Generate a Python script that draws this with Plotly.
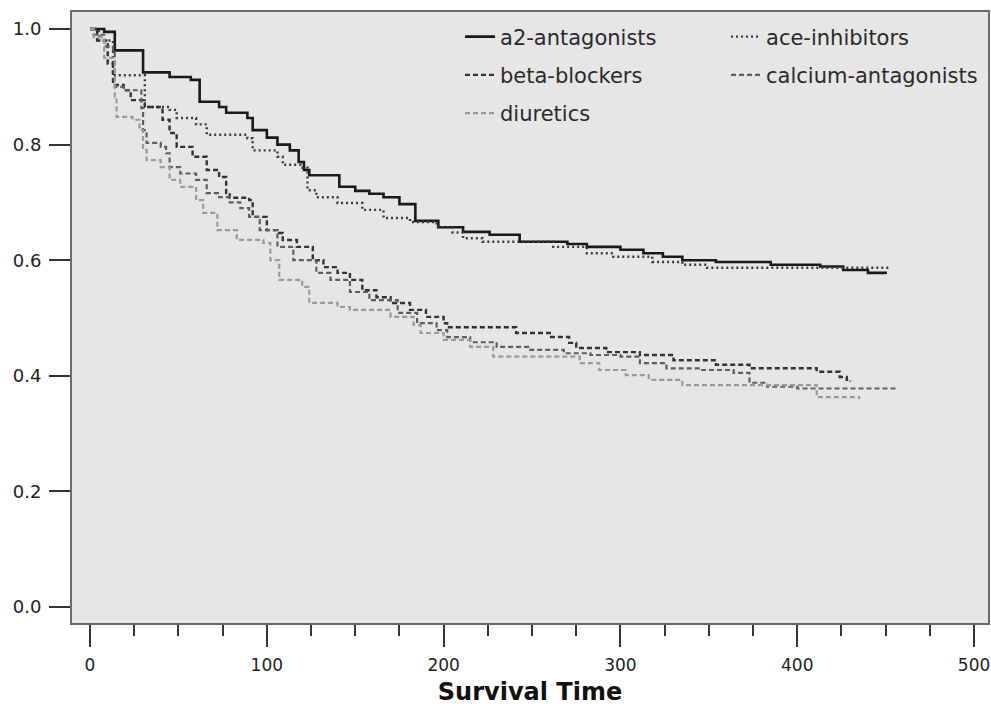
import plotly.graph_objects as go

# Survival time (days) and survival proportion for each drug class (Kaplan-Meier steps)
a2_time = [0, 8, 14, 30, 45, 57, 62, 73, 77, 89, 92, 100, 106, 113, 118, 121, 124, 141, 150, 158, 166,
           175, 184, 197, 211, 226, 243, 270, 281, 300, 313, 324, 335, 354, 385, 413, 426, 440, 450]
a2_surv = [1.0, 0.995, 0.963, 0.925, 0.917, 0.912, 0.874, 0.865, 0.855, 0.846, 0.825, 0.812, 0.80, 0.79, 0.77,
           0.756, 0.747, 0.727, 0.72, 0.715, 0.709, 0.697, 0.668, 0.657, 0.649, 0.644, 0.632, 0.628, 0.623,
           0.618, 0.612, 0.606, 0.600, 0.597, 0.592, 0.589, 0.583, 0.578, 0.576]

ace_time = [0, 5, 13, 31, 45, 49, 60, 66, 89, 92, 106, 109, 119, 123, 128, 140, 154, 166, 181, 196, 205,
            211, 222, 262, 281, 296, 318, 335, 349, 452]
ace_surv = [1.0, 0.98, 0.92, 0.865, 0.86, 0.846, 0.835, 0.817, 0.811, 0.79, 0.779, 0.765, 0.76, 0.721, 0.709,
            0.699, 0.687, 0.673, 0.666, 0.657, 0.648, 0.638, 0.632, 0.623, 0.612, 0.606, 0.597, 0.592, 0.587, 0.585]

beta_time = [0, 4, 10, 13, 19, 23, 31, 41, 45, 49, 58, 66, 73, 77, 79, 90, 92, 100, 106, 109, 117, 126, 132,
             140, 147, 154, 162, 170, 181, 190, 200, 202, 241, 260, 271, 275, 292, 311, 330, 354, 373, 411, 424,
             428, 430]
beta_surv = [1.0, 0.98, 0.94, 0.903, 0.894, 0.877, 0.865, 0.843, 0.82, 0.796, 0.779, 0.756, 0.744, 0.716, 0.708,
             0.704, 0.675, 0.652, 0.647, 0.635, 0.623, 0.60, 0.588, 0.578, 0.566, 0.548, 0.536, 0.526, 0.514,
             0.502, 0.491, 0.484, 0.474, 0.467, 0.457, 0.448, 0.441, 0.436, 0.427, 0.419, 0.413, 0.407, 0.398,
             0.393, 0.39]

calc_time = [0, 2, 8, 13, 14, 19, 29, 30, 32, 40, 43, 45, 51, 60, 66, 73, 79, 85, 90, 96, 106, 115, 128, 136,
             147, 158, 174, 185, 196, 202, 215, 230, 249, 268, 283, 300, 311, 326, 345, 364, 373, 383, 400, 456]
calc_surv = [1.0, 0.99, 0.97, 0.958, 0.90, 0.894, 0.863, 0.825, 0.803, 0.796, 0.785, 0.761, 0.75, 0.739, 0.716,
             0.709, 0.70, 0.69, 0.675, 0.652, 0.623, 0.60, 0.578, 0.566, 0.545, 0.531, 0.509, 0.491, 0.479, 0.467,
             0.458, 0.45, 0.445, 0.439, 0.436, 0.433, 0.422, 0.413, 0.41, 0.405, 0.388, 0.381, 0.378, 0.375]

diur_time = [0, 2, 8, 14, 15, 24, 28, 30, 32, 40, 45, 51, 60, 64, 72, 83, 98, 102, 107, 120, 124, 140, 147,
             170, 183, 187, 200, 215, 228, 277, 288, 303, 316, 335, 411, 435]
diur_surv = [1.0, 0.986, 0.95, 0.882, 0.848, 0.843, 0.825, 0.791, 0.773, 0.761, 0.739, 0.727, 0.704, 0.682,
             0.652, 0.635, 0.63, 0.60, 0.566, 0.554, 0.526, 0.519, 0.514, 0.502, 0.488, 0.474, 0.462, 0.45,
             0.433, 0.422, 0.41, 0.401, 0.393, 0.384, 0.363, 0.36]

x_ticks = [0, 100, 200, 300, 400, 500]
y_ticks = [0.0, 0.2, 0.4, 0.6, 0.8, 1.0]

FONT = "DejaVu Sans, Verdana, sans-serif"

series = [
    ("a2-antagonists", a2_time, a2_surv, dict(color="#1a1a1a", width=2.6, dash="solid"), "legend"),
    ("ace-inhibitors", ace_time, ace_surv, dict(color="#3a3a3a", width=2.4, dash="2px,3px"), "legend2"),
    ("beta-blockers", beta_time, beta_surv, dict(color="#333333", width=2.4, dash="5px,3px"), "legend"),
    ("calcium-antagonists", calc_time, calc_surv, dict(color="#5e5e5e", width=2.2, dash="5px,3px"), "legend2"),
    ("diuretics", diur_time, diur_surv, dict(color="#9a9a9a", width=2.2, dash="5px,3px"), "legend"),
]

fig = go.Figure()
for name, t, s, line, leg in series:
    fig.add_trace(go.Scatter(
        x=t, y=s, mode="lines", name=name, line=dict(shape="hv", **line),
        legend=leg, legendgroup=name,
    ))

legend_style = dict(
    bgcolor="rgba(0,0,0,0)", borderwidth=0, orientation="v",
    font=dict(family=FONT, size=21, color="#2a2a2a"),
    tracegroupgap=8, xanchor="left", yanchor="top", itemwidth=30,
)

fig.update_layout(
    width=991, height=707,
    margin=dict(l=72, r=3, t=12, b=84),
    paper_bgcolor="white",
    plot_bgcolor="#e6e6e6",
    font=dict(family=FONT, color="#222222"),
    legend=dict(x=0.4236, y=0.9927, **legend_style),
    legend2=dict(x=0.714, y=0.9927, **legend_style),
    xaxis=dict(
        range=[-10.2, 507.9], tickvals=x_ticks, ticks="outside", ticklen=22, tickwidth=1.5,
        tickcolor="#333", showgrid=False, zeroline=False, showline=True, mirror=True,
        linecolor="#6a6a6a", linewidth=2, automargin=False, ticklabeloverflow="allow",
        ticklabelstandoff=4,
        tickfont=dict(family=FONT, size=17, color="#222"),
        minor=dict(dtick=25, tick0=0, ticks="outside", ticklen=11, tickwidth=1.5, tickcolor="#333", showgrid=False),
        title=dict(text="<b>Survival Time</b>", font=dict(family=FONT, size=24, color="#111"), standoff=9),
    ),
    yaxis=dict(
        range=[-0.0277, 1.0294], tickvals=y_ticks, tickformat=".1f", ticks="outside", ticklen=21,
        tickwidth=1.5, tickcolor="#333", showgrid=False, zeroline=False, showline=True, mirror=True,
        linecolor="#6a6a6a", linewidth=2, automargin=False, ticklabeloverflow="allow",
        ticklabelstandoff=4,
        tickfont=dict(family=FONT, size=18, color="#222"),
    ),
)

# Remove the browser's default 8px body margin so the 991x707 figure fills the window exactly.
fig.write_html(
    "out.html",
    config={"displayModeBar": False},
    post_script="document.body.style.margin='0';document.body.style.overflow='hidden';",
)
